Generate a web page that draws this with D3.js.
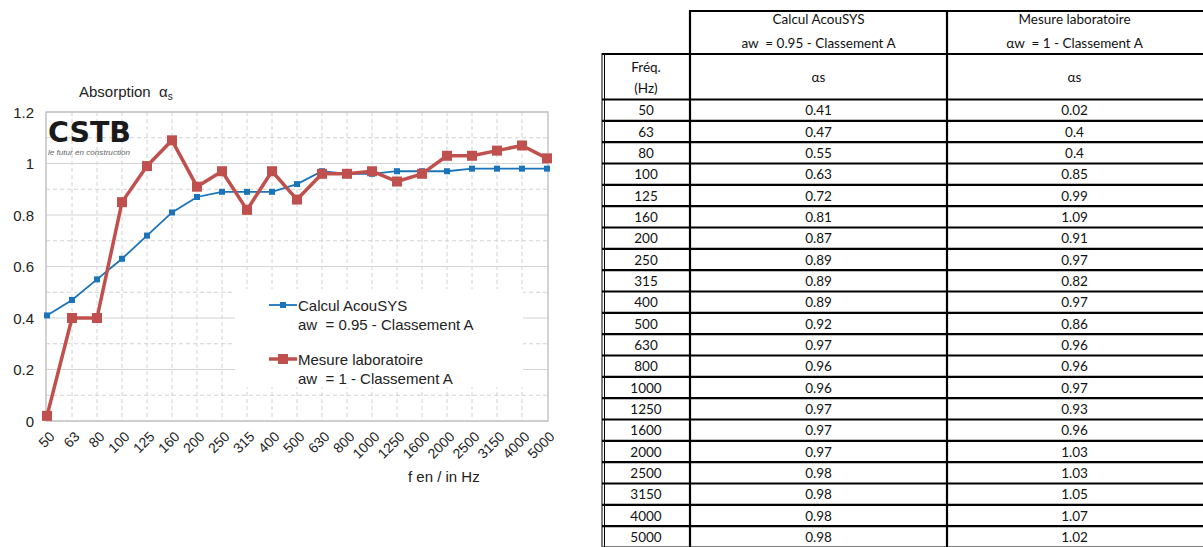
<!DOCTYPE html>
<html><head><meta charset="utf-8">
<script src="https://cdn.jsdelivr.net/npm/d3@7"></script>
<style>
html,body{margin:0;padding:0;background:#fff;}
svg{display:block;}
text{white-space:pre;}
</style></head>
<body>
<svg id="c" width="1203" height="547"></svg>
<script>
const freqs = ["50","63","80","100","125","160","200","250","315","400","500","630","800","1000","1250","1600","2000","2500","3150","4000","5000"];
const calcul = [0.41,0.47,0.55,0.63,0.72,0.81,0.87,0.89,0.89,0.89,0.92,0.97,0.96,0.96,0.97,0.97,0.97,0.98,0.98,0.98,0.98];
const mesure = [0.02,0.4,0.4,0.85,0.99,1.09,0.91,0.97,0.82,0.97,0.86,0.96,0.96,0.97,0.93,0.96,1.03,1.03,1.05,1.07,1.02];
const yTicks = [0,0.2,0.4,0.6,0.8,1,1.2];
const yMinor = [0.1,0.3,0.5,0.7,0.9,1.1];
const seriesNames = ["Calcul AcouSYS","Mesure laboratoire"];
const seriesSub = ["aw  = 0.95 - Classement A","aw  = 1 - Classement A"];
const tableHeadSub = ["aw  = 0.95 - Classement A","\u03b1w  = 1 - Classement A"];

const svg = d3.select("#c");
const font = "'Liberation Sans', Arial, sans-serif";
const blue = "#1b73ba", red = "#c0504d";

const x = d3.scalePoint().domain(freqs).range([47, 547]);
const y = d3.scaleLinear().domain([0, 1.2]).range([421, 112]);

const g = svg.append("g");
g.selectAll(".hm").data(yMinor).join("line")
  .attr("x1", 46).attr("x2", 548).attr("y1", d => y(d)).attr("y2", d => y(d))
  .attr("stroke", "#d2d2d2").attr("stroke-dasharray", "4,3");
g.selectAll(".vg").data(freqs.slice(1, -1)).join("line")
  .attr("x1", d => x(d)).attr("x2", d => x(d)).attr("y1", y(1.2)).attr("y2", y(0))
  .attr("stroke", "#d2d2d2").attr("stroke-dasharray", "4,3");
g.selectAll(".hg").data(yTicks).join("line")
  .attr("x1", 46).attr("x2", 548).attr("y1", d => y(d)).attr("y2", d => y(d))
  .attr("stroke", "#d4d4d4").attr("stroke-width", 1.2);
g.append("rect").attr("x", 46).attr("y", y(1.2)).attr("width", 502).attr("height", y(0) - y(1.2))
  .attr("fill", "none").attr("stroke", "#c4c4c4").attr("stroke-width", 1.5);

const yAxis = d3.axisLeft(y).tickValues(yTicks).tickSize(0).tickPadding(0).tickFormat(d3.format("~g"));
svg.append("g").attr("transform", "translate(34,0)").call(yAxis)
  .call(a => a.select(".domain").remove())
  .selectAll("text").attr("font-family", font).attr("font-size", 15).attr("fill", "#222").attr("dy", "0.35em");

const xAxis = d3.axisBottom(x).tickSize(0).tickPadding(0);
const xa = svg.append("g").call(xAxis);
xa.select(".domain").remove();
xa.selectAll(".tick").attr("transform", d => `translate(${x(d) + 5},434)`);
xa.selectAll("text").attr("font-family", font).attr("font-size", 14).attr("fill", "#222")
  .attr("text-anchor", "end").attr("y", 0).attr("dy", "0.35em").attr("transform", "rotate(-45)");

svg.append("text").attr("x", 408).attr("y", 482).attr("font-family", font).attr("font-size", 15).attr("fill", "#222").text("f en / in Hz");
const t = svg.append("text").attr("x", 79).attr("y", 97).attr("font-family", font).attr("font-size", 15).attr("fill", "#222");
t.append("tspan").text("Absorption  \u03b1");
t.append("tspan").attr("font-size", 10).attr("dy", 3).text("s");

// CSTB logo
svg.append("text").attr("x", 48).attr("y", 142).attr("font-family", "'DejaVu Sans', sans-serif").attr("font-weight", 900)
  .attr("font-size", 28).attr("fill", "#1a1a1a").attr("textLength", 83).attr("lengthAdjust", "spacingAndGlyphs").text("CSTB");
svg.append("text").attr("x", 48).attr("y", 155).attr("font-family", font).attr("font-style", "italic")
  .attr("font-size", 8).attr("fill", "#666").attr("textLength", 82).attr("lengthAdjust", "spacingAndGlyphs").text("le futur en construction");

const line = d3.line().x((d, i) => x(freqs[i])).y(d => y(d));
svg.append("path").attr("d", line(calcul)).attr("fill", "none").attr("stroke", blue).attr("stroke-width", 1.8);
svg.append("path").attr("d", line(mesure)).attr("fill", "none").attr("stroke", red).attr("stroke-width", 3.5).attr("stroke-linejoin", "round");
svg.selectAll(".mb").data(calcul).join("rect")
  .attr("x", (d, i) => x(freqs[i]) - 3).attr("y", d => y(d) - 3).attr("width", 6).attr("height", 6).attr("fill", blue);
svg.selectAll(".mr").data(mesure).join("rect")
  .attr("x", (d, i) => x(freqs[i]) - 5).attr("y", d => y(d) - 5).attr("width", 10).attr("height", 10).attr("fill", red);

const lg = svg.append("g");
lg.append("rect").attr("x", 235).attr("y", 289).attr("width", 288).attr("height", 98).attr("fill", "#fff");
const ly = [305, 359];
[blue, red].forEach((c, i) => {
  lg.append("line").attr("x1", 269).attr("x2", 297).attr("y1", ly[i]).attr("y2", ly[i]).attr("stroke", c).attr("stroke-width", i ? 3.5 : 1.8);
  const s = i ? 10 : 6;
  lg.append("rect").attr("x", 283 - s / 2).attr("y", ly[i] - s / 2).attr("width", s).attr("height", s).attr("fill", c);
  lg.append("text").attr("x", 298).attr("y", ly[i] + 6).attr("font-family", font).attr("font-size", 15).attr("fill", "#222").text(seriesNames[i]);
  lg.append("text").attr("x", 298).attr("y", ly[i] + 25).attr("font-family", font).attr("font-size", 15).attr("fill", "#222").text(seriesSub[i]);
});

const tf = "Lato, 'Open Sans', sans-serif";
const cols = [602, 690, 947, 1202];
const rowY = d3.scaleBand().domain(freqs).range([99.5, 547.5]);
const tg = svg.append("g").attr("font-family", tf).attr("font-size", 13.5).attr("fill", "#111").attr("text-anchor", "middle");
const mid = (a, b) => (a + b) / 2;
tg.append("text").attr("x", mid(cols[1], cols[2])).attr("y", 24).text(seriesNames[0]);
tg.append("text").attr("x", mid(cols[1], cols[2])).attr("y", 48).text(tableHeadSub[0]);
tg.append("text").attr("x", mid(cols[2], cols[3])).attr("y", 24).text(seriesNames[1]);
tg.append("text").attr("x", mid(cols[2], cols[3])).attr("y", 48).text(tableHeadSub[1]);
tg.append("text").attr("x", mid(cols[0], cols[1])).attr("y", 72).text("Fréq.");
tg.append("text").attr("x", mid(cols[0], cols[1])).attr("y", 93).text("(Hz)");
tg.append("text").attr("x", mid(cols[1], cols[2])).attr("y", 82).text("\u03b1s");
tg.append("text").attr("x", mid(cols[2], cols[3])).attr("y", 82).text("\u03b1s");
const fmt = d3.format("~g");
freqs.forEach((f, i) => {
  const cy = rowY(f) + rowY.bandwidth() / 2 + 5;
  tg.append("text").attr("x", mid(cols[0], cols[1])).attr("y", cy).text(f);
  tg.append("text").attr("x", mid(cols[1], cols[2])).attr("y", cy).text(fmt(calcul[i]));
  tg.append("text").attr("x", mid(cols[2], cols[3])).attr("y", cy).text(fmt(mesure[i]));
});
const lines = svg.append("g").attr("stroke", "#000").attr("stroke-width", 2.2);
lines.append("line").attr("x1", cols[1]).attr("x2", 1203).attr("y1", 11).attr("y2", 11);
lines.append("line").attr("x1", cols[0]).attr("x2", 1203).attr("y1", 54).attr("y2", 54);
lines.append("line").attr("x1", cols[0]).attr("x2", 1203).attr("y1", 99.5).attr("y2", 99.5);
freqs.forEach(f => {
  lines.append("line").attr("x1", cols[0]).attr("x2", 1203).attr("y1", rowY(f) + rowY.bandwidth()).attr("y2", rowY(f) + rowY.bandwidth());
});
lines.append("line").attr("x1", cols[1]).attr("x2", cols[1]).attr("y1", 10).attr("y2", 547);
lines.append("line").attr("x1", cols[2]).attr("x2", cols[2]).attr("y1", 10).attr("y2", 547);
lines.append("line").attr("x1", cols[0]).attr("x2", cols[0]).attr("y1", 53).attr("y2", 547).attr("stroke-width", 1);
lines.append("line").attr("x1", cols[0] + 2.5).attr("x2", cols[0] + 2.5).attr("y1", 53).attr("y2", 547).attr("stroke-width", 1);
</script>
</body></html>
